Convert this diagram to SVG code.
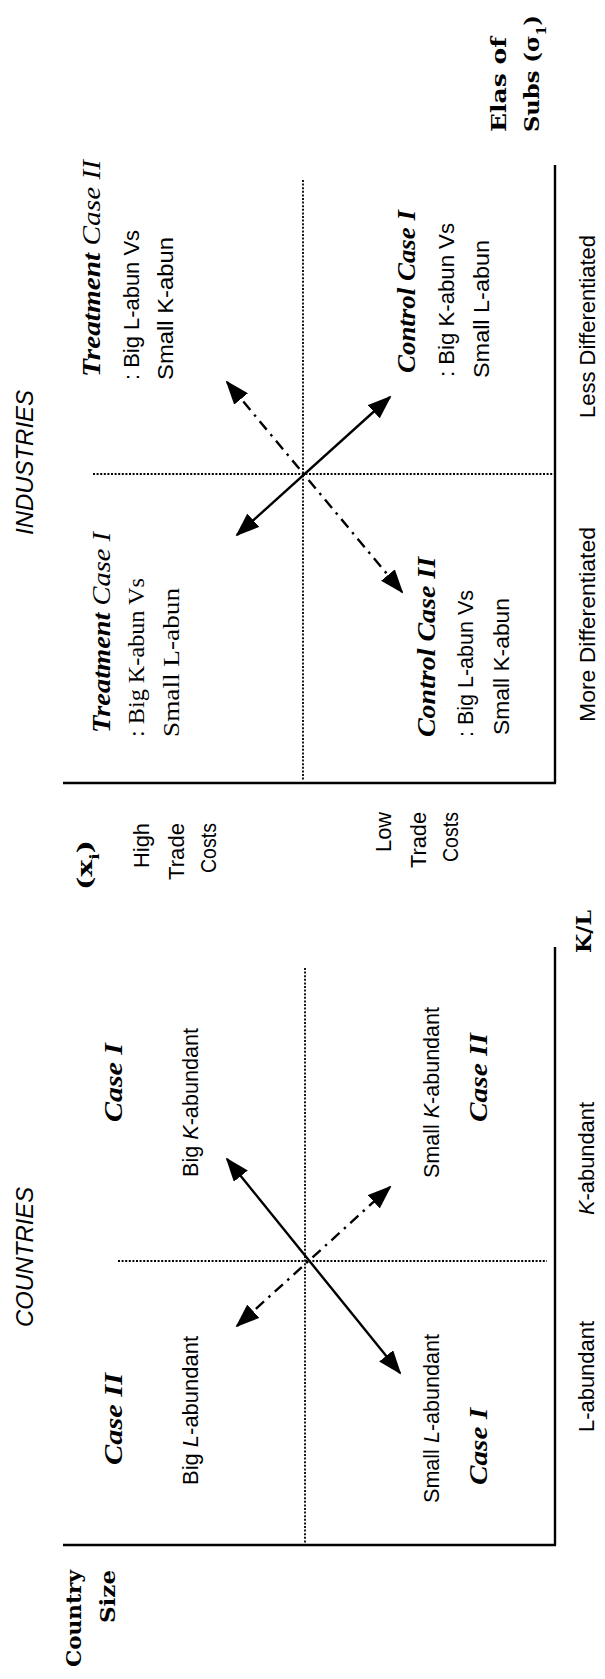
<svg xmlns="http://www.w3.org/2000/svg" width="605" height="1679" viewBox="0 0 605 1679">
<style>
text{fill:#000}
.sans{font-family:"Liberation Sans",Arial,sans-serif;font-size:22px}
.ital{font-family:"Liberation Sans",Arial,sans-serif;font-size:24px;font-style:italic}
.serif{font-family:"Liberation Serif","Times New Roman",serif;font-size:23px}
.case{font-family:"Liberation Serif","Times New Roman",serif;font-size:26px;font-weight:bold;font-style:italic}
.slab{font-family:"DejaVu Serif",serif;font-size:20px;font-weight:bold}
.axis{fill:none;stroke:#000;stroke-width:2.4}
.dot{fill:none;stroke:#000;stroke-width:1.8;stroke-dasharray:2 1.6}
.solid{fill:none;stroke:#000;stroke-width:2.4;marker-start:url(#ah);marker-end:url(#ah)}
.dashdot{fill:none;stroke:#000;stroke-width:2.4;stroke-dasharray:11 6 2.5 6;marker-start:url(#ah);marker-end:url(#ah)}
</style>
<defs>
<marker id="ah" viewBox="0 0 24 18" refX="22" refY="9" markerWidth="24" markerHeight="18" markerUnits="userSpaceOnUse" orient="auto-start-reverse">
<path d="M0,0 L24,9 L0,18 z" fill="#000"/>
</marker>
</defs>
<rect width="605" height="1679" fill="#fff"/>

<g id="countries-frame">
<path class="axis" d="M63,1545 H556 M555,1545 V947"/>
<path class="dot" d="M305,968 V1543 M118,1261 H547"/>
</g>
<g id="industries-frame">
<path class="axis" d="M63,783 H556 M555,783 V165"/>
<path class="dot" d="M303,180 V781 M93,474 H553"/>
</g>

<g id="connectors">
<line class="solid" x1="227" y1="1159" x2="400" y2="1373"/>
<line class="dashdot" x1="237" y1="1326" x2="390" y2="1187"/>
<line class="solid" x1="237" y1="535" x2="390" y2="397"/>
<line class="dashdot" x1="227" y1="382" x2="402" y2="592"/>
</g>

<g id="axis-labels">
<text class="slab" transform="translate(81,1667) rotate(-90)" textLength="97" lengthAdjust="spacingAndGlyphs">Country</text>
<text class="slab" transform="translate(115,1623) rotate(-90)" textLength="53" lengthAdjust="spacingAndGlyphs">Size</text>
<text class="ital" transform="translate(33,1327) rotate(-90)" textLength="140" lengthAdjust="spacingAndGlyphs">COUNTRIES</text>
<text class="ital" transform="translate(33,535) rotate(-90)" textLength="145" lengthAdjust="spacingAndGlyphs">INDUSTRIES</text>
<text class="sans" transform="translate(594,1432) rotate(-90)" textLength="111" lengthAdjust="spacingAndGlyphs">L-abundant</text>
<text class="sans" transform="translate(594,1215) rotate(-90)" textLength="113" lengthAdjust="spacingAndGlyphs"><tspan font-style="italic">K</tspan>-abundant</text>
<text class="slab" transform="translate(591,953) rotate(-90)" textLength="43" lengthAdjust="spacingAndGlyphs">K/L</text>
<text class="slab" transform="translate(92,890) rotate(-90)" textLength="50" lengthAdjust="spacingAndGlyphs">(x<tspan font-size="12" baseline-shift="sub">i</tspan>)</text>
<text class="sans" transform="translate(149,868) rotate(-90)" textLength="45" lengthAdjust="spacingAndGlyphs">High</text>
<text class="sans" transform="translate(184,880) rotate(-90)" textLength="57" lengthAdjust="spacingAndGlyphs">Trade</text>
<text class="sans" transform="translate(216,873) rotate(-90)" textLength="50" lengthAdjust="spacingAndGlyphs">Costs</text>
<text class="sans" transform="translate(391,852) rotate(-90)" textLength="40" lengthAdjust="spacingAndGlyphs">Low</text>
<text class="sans" transform="translate(426,868) rotate(-90)" textLength="56" lengthAdjust="spacingAndGlyphs">Trade</text>
<text class="sans" transform="translate(458,862) rotate(-90)" textLength="50" lengthAdjust="spacingAndGlyphs">Costs</text>
<text class="sans" transform="translate(595,722) rotate(-90)" textLength="195" lengthAdjust="spacingAndGlyphs">More Differentiated</text>
<text class="sans" transform="translate(595,418) rotate(-90)" textLength="183" lengthAdjust="spacingAndGlyphs">Less Differentiated</text>
<text class="slab" transform="translate(506,132) rotate(-90)" textLength="95" lengthAdjust="spacingAndGlyphs">Elas of</text>
<text class="slab" transform="translate(539,132) rotate(-90)" textLength="117" lengthAdjust="spacingAndGlyphs">Subs (σ<tspan font-size="12" baseline-shift="sub">1</tspan>)</text>
</g>

<g id="country-case-ii-big-l">
<text class="case" transform="translate(122,1465) rotate(-90)" textLength="92" lengthAdjust="spacingAndGlyphs">Case II</text>
<text class="sans" transform="translate(198,1485) rotate(-90)" textLength="149" lengthAdjust="spacingAndGlyphs">Big <tspan font-style="italic">L</tspan>-abundant</text>
</g>
<g id="country-case-i-small-l">
<text class="sans" transform="translate(439,1503) rotate(-90)" textLength="169" lengthAdjust="spacingAndGlyphs">Small <tspan font-style="italic">L</tspan>-abundant</text>
<text class="case" transform="translate(487,1485) rotate(-90)" textLength="77" lengthAdjust="spacingAndGlyphs">Case I</text>
</g>
<g id="country-case-i-big-k">
<text class="case" transform="translate(122,1122) rotate(-90)" textLength="79" lengthAdjust="spacingAndGlyphs">Case I</text>
<text class="sans" transform="translate(198,1177) rotate(-90)" textLength="149" lengthAdjust="spacingAndGlyphs">Big <tspan font-style="italic">K</tspan>-abundant</text>
</g>
<g id="country-case-ii-small-k">
<text class="sans" transform="translate(439,1178) rotate(-90)" textLength="171" lengthAdjust="spacingAndGlyphs">Small <tspan font-style="italic">K</tspan>-abundant</text>
<text class="case" transform="translate(487,1122) rotate(-90)" textLength="89" lengthAdjust="spacingAndGlyphs">Case II</text>
</g>

<g id="treatment-case-i">
<text class="case" transform="translate(110,733) rotate(-90)" textLength="201" lengthAdjust="spacingAndGlyphs">Treatment <tspan font-weight="normal">Case I</tspan></text>
<text class="serif" transform="translate(144,737) rotate(-90)" textLength="159" lengthAdjust="spacingAndGlyphs">: Big K-abun Vs</text>
<text class="serif" transform="translate(179,737) rotate(-90)" textLength="149" lengthAdjust="spacingAndGlyphs">Small L-abun</text>
</g>
<g id="treatment-case-ii">
<text class="case" transform="translate(100,377) rotate(-90)" textLength="217" lengthAdjust="spacingAndGlyphs">Treatment <tspan font-weight="normal">Case II</tspan></text>
<text class="sans" transform="translate(139,380) rotate(-90)" textLength="150" lengthAdjust="spacingAndGlyphs">: Big L-abun Vs</text>
<text class="sans" transform="translate(173,380) rotate(-90)" textLength="143" lengthAdjust="spacingAndGlyphs">Small  K-abun</text>
</g>
<g id="control-case-ii">
<text class="case" transform="translate(435,737) rotate(-90)" textLength="180" lengthAdjust="spacingAndGlyphs">Control Case II</text>
<text class="sans" transform="translate(473,737) rotate(-90)" textLength="147" lengthAdjust="spacingAndGlyphs">: Big L-abun Vs</text>
<text class="sans" transform="translate(509,735) rotate(-90)" textLength="137" lengthAdjust="spacingAndGlyphs">Small  K-abun</text>
</g>
<g id="control-case-i">
<text class="case" transform="translate(415,373) rotate(-90)" textLength="163" lengthAdjust="spacingAndGlyphs">Control Case I</text>
<text class="sans" transform="translate(454,377) rotate(-90)" textLength="154" lengthAdjust="spacingAndGlyphs">: Big K-abun Vs</text>
<text class="sans" transform="translate(489,378) rotate(-90)" textLength="138" lengthAdjust="spacingAndGlyphs">Small  L-abun</text>
</g>
</svg>
